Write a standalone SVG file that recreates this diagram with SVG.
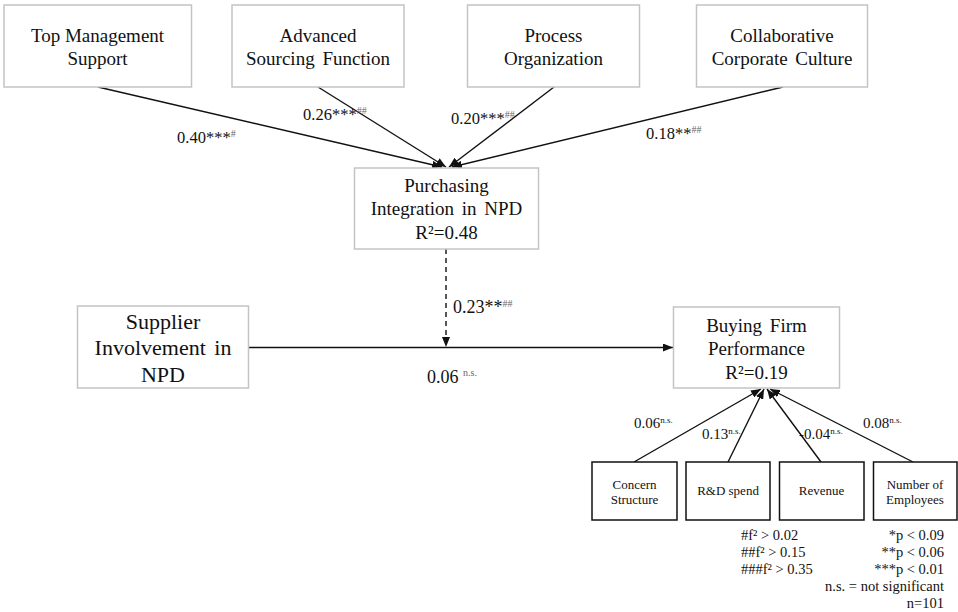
<svg xmlns="http://www.w3.org/2000/svg" width="958" height="612" viewBox="0 0 958 612" font-family="Liberation Serif, Times New Roman, serif">
<defs>
<style>
text{font-family:'Liberation Serif','Times New Roman',serif;fill:#111}
.gb{fill:#fff;stroke:#c4c4c4;stroke-width:1.5}
.bb{fill:#fff;stroke:#111;stroke-width:1.5}
.t19{font-size:19px;text-anchor:middle}
.t22{font-size:22px;text-anchor:middle}
.t13{font-size:13px;text-anchor:middle}
.e16{font-size:16.5px}
.e18{font-size:18px}
.e15{font-size:15px}
.fn{font-size:14.5px}
.sup{font-size:10px;fill:#666}
.sup2{font-size:9px}
.ln{stroke:#111;stroke-width:1.4;fill:none}
.dash{stroke-dasharray:5 4}
</style>
<marker id="ah" markerUnits="userSpaceOnUse" markerWidth="10" markerHeight="8" refX="10" refY="4" orient="auto" viewBox="0 0 10 8">
<path d="M0,0 L10,4 L0,8 z" fill="#111"/>
</marker>
</defs>
<rect width="958" height="612" fill="#fff"/>

<g id="connectors">
<line class="ln" x1="98" y1="87" x2="442" y2="167" marker-end="url(#ah)"/>
<line class="ln" x1="318" y1="87" x2="446" y2="167" marker-end="url(#ah)"/>
<line class="ln" x1="554" y1="87" x2="449" y2="167" marker-end="url(#ah)"/>
<line class="ln" x1="783" y1="87" x2="452" y2="167" marker-end="url(#ah)"/>
<line class="ln dash" x1="446" y1="249" x2="446" y2="347" marker-end="url(#ah)"/>
<line class="ln" x1="248" y1="347.5" x2="673" y2="347.5" marker-end="url(#ah)"/>
<line class="ln" x1="634" y1="462" x2="761" y2="389" marker-end="url(#ah)"/>
<line class="ln" x1="728" y1="462" x2="764" y2="389" marker-end="url(#ah)"/>
<line class="ln" x1="821" y1="462" x2="767" y2="389" marker-end="url(#ah)"/>
<line class="ln" x1="913" y1="462" x2="770" y2="389" marker-end="url(#ah)"/>
<text class="e16" x="177" y="142.5">0.40***<tspan class="sup" dy="-6">#</tspan></text>
<text class="e16" x="303" y="120">0.26***<tspan class="sup" dy="-6">##</tspan></text>
<text class="e16" x="451" y="124">0.20***<tspan class="sup" dy="-6">##</tspan></text>
<text class="e16" x="646" y="139">0.18**<tspan class="sup" dy="-6">##</tspan></text>
<text class="e18" x="453" y="313">0.23**<tspan class="sup" dy="-6">##</tspan></text>
<text class="e18" x="427" y="383">0.06 <tspan class="sup" dy="-7" fill="#111">n.s.</tspan></text>
<text class="e15" x="634" y="428">0.06<tspan class="sup2" dy="-5">n.s.</tspan></text>
<text class="e15" x="702" y="439">0.13<tspan class="sup2" dy="-5">n.s.</tspan></text>
<text class="e15" x="799" y="439">-0.04<tspan class="sup2" dy="-5">n.s.</tspan></text>
<text class="e15" x="863" y="428">0.08<tspan class="sup2" dy="-5">n.s.</tspan></text>
</g>

<g id="top-management-support">
<rect class="gb" x="4" y="5" width="187.5" height="82"/>
<text class="t19" x="97.5" y="41.5">Top Management</text>
<text class="t19" x="97.5" y="65">Support</text>
</g>
<g id="advanced-sourcing-function">
<rect class="gb" x="232" y="5" width="172" height="82"/>
<text class="t19" x="318" y="41.5">Advanced</text>
<text class="t19" x="318" y="65" word-spacing="3">Sourcing Function</text>
</g>
<g id="process-organization">
<rect class="gb" x="467.5" y="5" width="172" height="82"/>
<text class="t19" x="553.5" y="41.5">Process</text>
<text class="t19" x="553.5" y="65">Organization</text>
</g>
<g id="collaborative-corporate-culture">
<rect class="gb" x="696.5" y="5" width="171" height="82"/>
<text class="t19" x="782" y="41.5">Collaborative</text>
<text class="t19" x="782" y="65" word-spacing="3">Corporate Culture</text>
</g>
<g id="purchasing-integration">
<rect class="gb" x="354.5" y="168" width="184" height="81"/>
<text class="t19" x="446.5" y="191.5">Purchasing</text>
<text class="t19" x="446.5" y="215" word-spacing="3">Integration in NPD</text>
<text class="t19" x="446.5" y="238.5">R²=0.48</text>
</g>
<g id="supplier-involvement">
<rect class="gb" x="77.5" y="306" width="171" height="82"/>
<text class="t22" x="163" y="328.5">Supplier</text>
<text class="t22" x="163" y="355" word-spacing="3">Involvement in</text>
<text class="t22" x="163" y="381.5">NPD</text>
</g>
<g id="buying-firm-performance">
<rect class="gb" x="673.5" y="307" width="166" height="81"/>
<text class="t19" x="756.5" y="331.5" word-spacing="3">Buying Firm</text>
<text class="t19" x="756.5" y="355">Performance</text>
<text class="t19" x="756.5" y="378.5">R²=0.19</text>
</g>
<g id="concern-structure">
<rect class="bb" x="592" y="462" width="85" height="58"/>
<text class="t13" x="634.5" y="488.5">Concern</text>
<text class="t13" x="634.5" y="503.5">Structure</text>
</g>
<g id="rd-spend">
<rect class="bb" x="686" y="462" width="84" height="58"/>
<text class="t13" x="728" y="495">R&amp;D spend</text>
</g>
<g id="revenue">
<rect class="bb" x="779.5" y="462" width="84.5" height="58"/>
<text class="t13" x="821.5" y="495">Revenue</text>
</g>
<g id="number-of-employees">
<rect class="bb" x="873.5" y="462" width="83.5" height="58"/>
<text class="t13" x="915" y="488.5">Number of</text>
<text class="t13" x="915" y="503.5">Employees</text>
</g>

<g id="footnotes">
<text class="fn" x="741" y="539.5">#f² &gt; 0.02</text>
<text class="fn" x="741" y="556.5">##f² &gt; 0.15</text>
<text class="fn" x="741" y="573.5">###f² &gt; 0.35</text>
<text class="fn" x="944" y="539.5" text-anchor="end">*p &lt; 0.09</text>
<text class="fn" x="944" y="556.5" text-anchor="end">**p &lt; 0.06</text>
<text class="fn" x="944" y="573.5" text-anchor="end">***p &lt; 0.01</text>
<text class="fn" x="944" y="590.5" text-anchor="end">n.s. = not significant</text>
<text class="fn" x="944" y="607.5" text-anchor="end">n=101</text>
</g>
</svg>
